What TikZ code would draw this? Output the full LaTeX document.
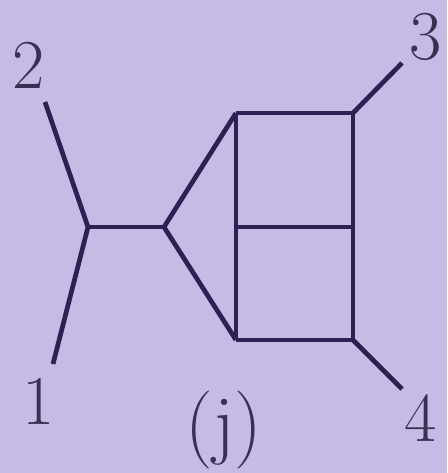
\documentclass[tikz,border=0pt]{standalone}
\usetikzlibrary{positioning}
\definecolor{JetBack}{RGB}{199,187,229}
\definecolor{JetLine}{RGB}{45,32,82}
\definecolor{JetText}{RGB}{58,48,84}
\begin{document}
\begin{tikzpicture}[x=1pt,y=-1pt]
        \tikzset{prop/.style={draw=JetLine,line width=4.7pt,line join=round},
          vertex/.style={inner sep=0pt,minimum size=0pt},
          leg/.style={inner sep=0pt,text=JetText,font=\fontsize{70}{74}\selectfont}}
        \fill[JetBack] (0,0) rectangle (447,473);
        \useasboundingbox (0,0) rectangle (447,473);
        \coordinate (e2) at (45,102);
        \coordinate (e1) at (53,364);
        \coordinate (e3) at (402,63);
        \coordinate (e4) at (402,389);
        \node[vertex] (v1) at (88,227) {};
        \node[vertex] (v2) at (164,227) {};
        \node[vertex] (tl) at (236,113) {};
        \node[vertex] (ml) at (236,227) {};
        \node[vertex] (bl) at (236,340) {};
        \node[vertex] (tr) at (353,113) {};
        \node[vertex] (mr) at (353,227) {};
        \node[vertex] (br) at (353,340) {};
        \draw[prop] (e2) -- (v1);
        \draw[prop] (e1) -- (v1);
        \draw[prop] (v1) -- (v2);
        \draw[prop] (v2) -- (tl);
        \draw[prop] (v2) -- (bl);
        \draw[prop] (tl) -- (bl);
        \draw[prop] (tl) -- (tr);
        \draw[prop] (ml) -- (mr);
        \draw[prop] (bl) -- (br);
        \draw[prop] (tr) -- (br);
        \draw[prop] (tr) -- (e3);
        \draw[prop] (br) -- (e4);
        \node[leg] (l2) at (29,65) {2};
        \node[leg] (l1) at (39,401) {1};
        \node[leg] (l3) at (426,37) {3};
        \node[leg] (l4) at (421,418) {4};
        \node[leg,font=\fontsize{78}{82}\selectfont] (lj) at (224,430) {(j)};
      \end{tikzpicture}
\end{document}
